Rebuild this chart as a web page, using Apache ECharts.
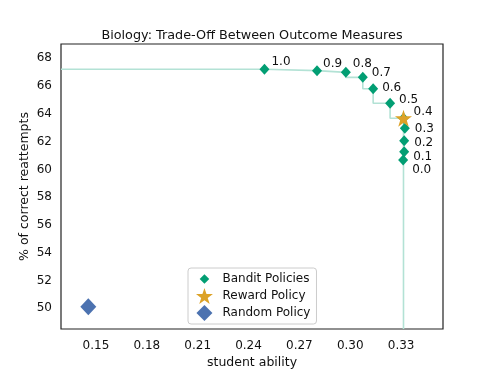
<!DOCTYPE html>
<html>
<head>
<meta charset="utf-8">
<script src="https://cdn.jsdelivr.net/npm/echarts@6/dist/echarts.min.js"></script>
<style>
  html, body { margin: 0; padding: 0; background: #fff; }
  #chart { width: 493px; height: 370px; }
</style>
</head>
<body>
<div id="chart"></div>
<script>
// bandit policies, labelled by weight
const banditLabels = ['1.0', '0.9', '0.8', '0.7', '0.6', '0.5', '0.4', '0.3', '0.2', '0.1', '0.0'];
const banditAbility = [0.2494, 0.2804, 0.2974, 0.3074, 0.3135, 0.3235, 0.3314, 0.3322, 0.3318, 0.3318, 0.3312];
const banditReattempt = [67.21, 67.11, 66.99, 66.63, 65.81, 64.76, 63.68, 62.96, 62.07, 61.28, 60.68];

const rewardPolicy = [0.3314, 63.68];
const randomPolicy = [0.1455, 50.11];

const xTicks = [0.15, 0.18, 0.21, 0.24, 0.27, 0.30, 0.33];
const yTicks = [50, 52, 54, 56, 58, 60, 62, 64, 66, 68];

const xMin = 0.1294, xMax = 0.3547;
const yMin = 48.51, yMax = 69.03;

// pareto frontier: policies 1.0 .. 0.4 (index 0..6)
const frontierIdx = [0, 1, 2, 3, 4, 5, 6];

// label nudges (px) per bandit point
const labelNudge = [[2, -7], [1, -7], [2, -8], [4, -4], [4, -1], [4, -3], [5, -6], [5, 1], [5, 2], [4, 5], [4, 10]];

const green = '#029e73';
const gold = '#dca227';
const blue = '#4c72b0';
const font = 'DejaVu Sans';

const starPath = 'path://M50,0 L61.8,35.3 L99,35.3 L68.8,57.4 L80.3,92.7 L50,70.9 L19.7,92.7 L31.2,57.4 L1,35.3 L38.2,35.3 Z';
// legend icons padded inside a 0..100 box so they draw smaller
const smallDiamond = 'path://M0,0 L0,0 M100,100 L100,100 M50,20 L80,50 L50,80 L20,50 Z';
const bigDiamond = 'path://M50,0 L100,50 L50,100 L0,50 Z';

const frontier = [[xMin, banditReattempt[0]]];
frontierIdx.forEach(i => frontier.push([banditAbility[i], banditReattempt[i]]));
frontier.push([rewardPolicy[0], yMin]);

const banditData = banditAbility.map((x, i) => ({
  value: [x, banditReattempt[i]],
  label: { show: true, formatter: banditLabels[i], position: 'right', offset: labelNudge[i] }
}));

const chart = echarts.init(document.getElementById('chart'));
chart.setOption({
  animation: false,
  backgroundColor: '#fff',
  title: {
    text: 'Biology: Trade-Off Between Outcome Measures',
    left: 247, top: 24, textAlign: 'center',
    textStyle: { fontFamily: font, fontSize: 12.8, fontWeight: 'normal', color: '#111' }
  },
  grid: {
    left: 61, right: 50, top: 44, bottom: 41,
    outerBoundsMode: 'none', containLabel: false,
    show: true, borderColor: '#222', borderWidth: 1.2, backgroundColor: 'transparent'
  },
  legend: {
    orient: 'vertical', left: 188, top: 268,
    itemGap: 1, itemWidth: 20, itemHeight: 16,
    padding: [3, 6, 3, 8],
    borderColor: '#ccc', borderWidth: 1, borderRadius: 3,
    textStyle: { fontFamily: font, fontSize: 12, color: '#111', padding: [0, 0, 0, 3] },
    data: [
      { name: 'Bandit Policies', icon: smallDiamond },
      { name: 'Reward Policy', icon: starPath },
      { name: 'Random Policy', icon: bigDiamond }
    ]
  },
  xAxis: {
    type: 'value', min: xMin, max: xMax,
    name: 'student ability', nameLocation: 'middle', nameGap: 27, nameMoveOverlap: false,
    nameTextStyle: { fontFamily: font, fontSize: 12.5, color: '#111' },
    axisLine: { show: false }, axisTick: { show: false }, splitLine: { show: false },
    axisLabel: {
      customValues: xTicks, margin: 11,
      fontFamily: font, fontSize: 12, color: '#111',
      formatter: v => v.toFixed(2)
    }
  },
  yAxis: {
    type: 'value', min: yMin, max: yMax,
    name: '% of correct reattempts', nameLocation: 'middle', nameGap: 30, nameMoveOverlap: false,
    nameTextStyle: { fontFamily: font, fontSize: 12.5, color: '#111' },
    axisLine: { show: false }, axisTick: { show: false }, splitLine: { show: false },
    axisLabel: {
      customValues: yTicks, margin: 9,
      fontFamily: font, fontSize: 12, color: '#111'
    }
  },
  series: [
    {
      name: 'frontier', type: 'line', data: frontier, step: 'start',
      symbol: 'none', silent: true, z: 1,
      lineStyle: { color: '#b3e2d5', width: 1.6 }
    },
    {
      name: 'Bandit Policies', type: 'scatter', data: banditData,
      symbol: 'diamond', symbolSize: [10, 11], z: 3,
      itemStyle: { color: green, opacity: 1 },
      label: { fontFamily: font, fontSize: 12, color: '#111', distance: 0 }
    },
    {
      name: 'Reward Policy', type: 'scatter', data: [rewardPolicy],
      symbol: starPath, symbolSize: 17, z: 4,
      itemStyle: { color: gold, opacity: 1 }
    },
    {
      name: 'Random Policy', type: 'scatter', data: [randomPolicy],
      symbol: 'diamond', symbolSize: [16, 17], z: 3,
      itemStyle: { color: blue, opacity: 1 }
    }
  ]
});
</script>
</body>
</html>
